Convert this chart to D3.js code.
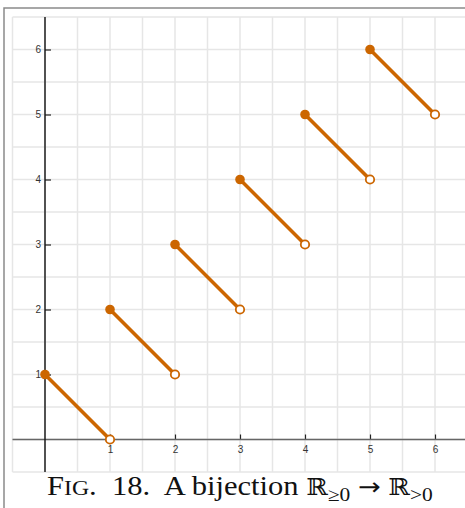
<!DOCTYPE html>
<html>
<head>
<meta charset="utf-8">
<script src="https://cdn.jsdelivr.net/npm/d3@7"></script>
<style>
  html, body { margin: 0; padding: 0; background: #fff; }
  svg { display: block; }
</style>
</head>
<body>
<svg id="chart" width="465" height="508"></svg>
<script>
// Piecewise-linear map: on [n, n+1) the line runs from (n, n+1) down to (n+1, n)
const startX = [0, 1, 2, 3, 4, 5];
const startY = [1, 2, 3, 4, 5, 6];
const endX   = [1, 2, 3, 4, 5, 6];
const endY   = [0, 1, 2, 3, 4, 5];
const xTicks = [1, 2, 3, 4, 5, 6];
const yTicks = [1, 2, 3, 4, 5, 6];
const gridSteps = d3.range(-0.5, 7, 0.5);

const svg = d3.select("#chart");
const W = 465, H = 508;

const x = d3.scaleLinear().domain([-0.5, 6.5]).range([12.5, 467.5]);
const y = d3.scaleLinear().domain([-0.5, 6.5]).range([472, 17]);

const orange = "#cc6600";

// outer frame (top and left rules)
svg.append("path")
  .attr("d", `M4,${H} L4,8 L${W},8`)
  .attr("fill", "none").attr("stroke", "#8a8a8a").attr("stroke-width", 1.5);

// grid every half unit
const grid = svg.append("g").attr("stroke", "#e6e6e6").attr("stroke-width", 1.5);
grid.selectAll("line.v").data(gridSteps).join("line")
  .attr("x1", d => x(d)).attr("x2", d => x(d))
  .attr("y1", y(6.5)).attr("y2", y(-0.5));
grid.selectAll("line.h").data(gridSteps).join("line")
  .attr("x1", x(-0.5)).attr("x2", W)
  .attr("y1", d => y(d)).attr("y2", d => y(d));

// x axis through y = 0
const xAxis = d3.axisTop(x).tickValues(xTicks).tickSize(5).tickFormat(d3.format("d"));
const gx = svg.append("g").attr("transform", `translate(0,${y(0)})`).call(xAxis);
gx.select(".domain").remove();
gx.selectAll(".tick line").attr("stroke", "#222").attr("stroke-width", 1.2);
gx.selectAll(".tick text")
  .attr("y", 6).attr("dy", "0.71em")
  .attr("font-family", "Liberation Sans, Arial, sans-serif")
  .attr("font-size", 10).attr("fill", "#333");
svg.append("line")
  .attr("x1", x(-0.5)).attr("x2", W)
  .attr("y1", y(0)).attr("y2", y(0))
  .attr("stroke", "#666").attr("stroke-width", 1.6);

// y axis through x = 0
const yAxis = d3.axisRight(y).tickValues(yTicks).tickSize(6).tickFormat(d3.format("d"));
const gy = svg.append("g").attr("transform", `translate(${x(0)},0)`).call(yAxis);
gy.select(".domain").remove();
gy.selectAll(".tick line").attr("stroke", "#222").attr("stroke-width", 1.2);
gy.selectAll(".tick text")
  .attr("x", -4).attr("text-anchor", "end")
  .attr("font-family", "Liberation Sans, Arial, sans-serif")
  .attr("font-size", 10).attr("fill", "#333");
svg.append("line")
  .attr("x1", x(0)).attr("x2", x(0))
  .attr("y1", y(6.5)).attr("y2", y(-0.5))
  .attr("stroke", "#111").attr("stroke-width", 1.4);

// segments
const segs = startX.map((d, i) => ({ x0: d, y0: startY[i], x1: endX[i], y1: endY[i] }));
const g = svg.append("g");
g.selectAll("line.seg").data(segs).join("line")
  .attr("x1", d => x(d.x0)).attr("y1", d => y(d.y0))
  .attr("x2", d => x(d.x1)).attr("y2", d => y(d.y1))
  .attr("stroke", orange).attr("stroke-width", 3.6).attr("stroke-linecap", "round");
// closed end (included point)
g.selectAll("circle.closed").data(segs).join("circle")
  .attr("cx", d => x(d.x0)).attr("cy", d => y(d.y0)).attr("r", 4.8)
  .attr("fill", orange);
// open end (excluded point)
g.selectAll("circle.open").data(segs).join("circle")
  .attr("cx", d => x(d.x1)).attr("cy", d => y(d.y1)).attr("r", 4.2)
  .attr("fill", "#fff").attr("stroke", orange).attr("stroke-width", 1.8);

// caption
const capX = 47, capRight = 433;
const cap = svg.append("text")
  .attr("x", capX).attr("y", 495)
  .attr("xml:space", "preserve").style("white-space", "pre")
  .attr("font-family", "Liberation Serif, Times New Roman, serif")
  .attr("font-size", 27).attr("fill", "#111");
cap.append("tspan").text("F");
cap.append("tspan").attr("font-size", 21).text("IG");
cap.append("tspan").text(".  18.  A bijection ");
cap.append("tspan").attr("font-family", "DejaVu Serif, serif").attr("font-size", 23).text("ℝ");
cap.append("tspan").attr("font-size", 19).attr("dy", 6).text("≥0");
cap.append("tspan").attr("dy", -6).text(" ");
cap.append("tspan").attr("font-family", "DejaVu Sans, sans-serif").attr("font-size", 24).text("→");
cap.append("tspan").text(" ");
cap.append("tspan").attr("font-family", "DejaVu Serif, serif").attr("font-size", 23).text("ℝ");
cap.append("tspan").attr("font-size", 19).attr("dy", 6).text(">0");
// stretch the caption to the wide TeX-like set width
const bb = cap.node().getBBox();
const sx = (capRight - capX) / bb.width;
cap.attr("transform", `translate(${capX},0) scale(${sx},1) translate(${-capX},0)`);
</script>
</body>
</html>
